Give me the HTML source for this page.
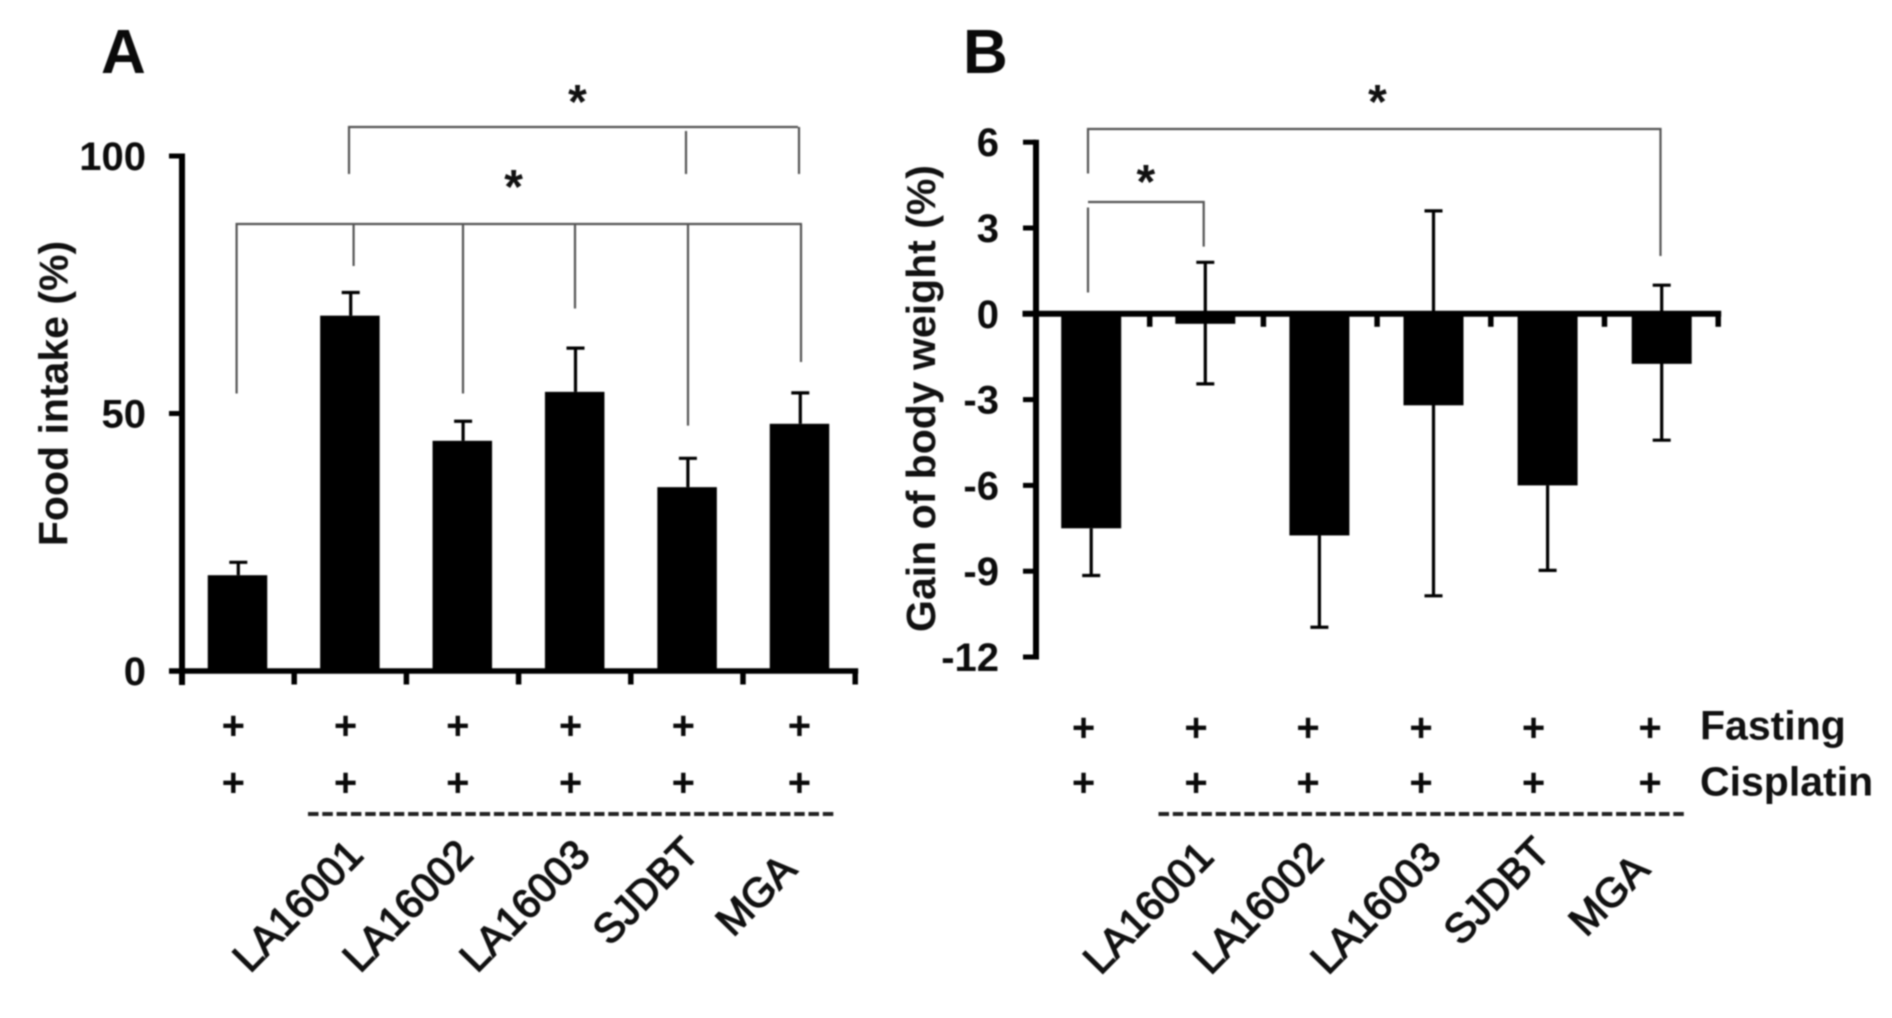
<!DOCTYPE html>
<html lang="en">
<head>
<meta charset="utf-8">
<title>Food intake and gain of body weight</title>
<style>
  html, body { margin: 0; padding: 0; width: 1892px; height: 1018px; background: #fff; overflow: hidden; }
  svg { display: block; font-family: "Liberation Sans", Arial, sans-serif; }
  #scene { filter: url(#soften); }
  .tick-label { font-size: 40px; font-weight: bold; fill: #0c0c0c; text-anchor: end; }
  .axis-title { font-size: 41px; font-weight: bold; fill: #111; text-anchor: middle; }
  .panel { font-size: 62px; font-weight: bold; fill: #0a0a0a; }
  .star { font-size: 48px; font-weight: bold; fill: #111; text-anchor: middle; }
  .plus { font-size: 40px; font-weight: bold; fill: #0a0a0a; text-anchor: middle; }
  .row-label { font-size: 41px; font-weight: bold; fill: #111; }
  .cat { font-size: 41px; fill: #111; stroke: #111; stroke-width: 1.3px; }
  .bracket { stroke: #555; stroke-width: 2.2; fill: none; }
  .dash { stroke: #222; stroke-width: 4; stroke-dasharray: 10.5 3.8; fill: none; }
</style>
</head>
<body>
<svg id="chart" xmlns="http://www.w3.org/2000/svg" width="1892" height="1018" viewBox="0 0 1892 1018">
  <defs>
    <filter id="soften" x="0" y="0" width="100%" height="100%" color-interpolation-filters="sRGB"><feGaussianBlur stdDeviation="0.8"/></filter>
  </defs>
  <rect width="1892" height="1018" fill="#fff"/>
  <g id="scene">
    <text class="panel" x="101" y="73">A</text>
    <text class="panel" x="963" y="73">B</text>

    <text class="axis-title" transform="translate(67.5 393.5) rotate(-90)">Food intake (%)</text>
    <text class="axis-title" transform="translate(935 398.5) rotate(-90)">Gain of body weight (%)</text>

    <g id="panel-a"></g>
    <g id="panel-b"></g>

    <g class="bracket">
      <path d="M349 174V127H798"/><path d="M686 131V174"/><path d="M799 127V174"/>
    </g>
    <g class="bracket">
      <path d="M236.6 393.5V224H802"/><path d="M353.6 224V266"/><path d="M463 224V393.5"/><path d="M575 224V308.5"/><path d="M688 224V425.6"/><path d="M801 224V362"/>
    </g>
    <text class="star" x="577.5" y="118">*</text>
    <text class="star" x="513.6" y="203">*</text>

    <g class="bracket">
      <path d="M1088 173.5V129H1660.5V256"/>
    </g>
    <g class="bracket">
      <path d="M1088 202H1203.7V246.6"/><path d="M1088 207.5V292.5"/>
    </g>
    <text class="star" x="1377.5" y="118">*</text>
    <text class="star" x="1145.8" y="198">*</text>

    <g>
      <text class="plus" x="233.3" y="739">+</text>
      <text class="plus" x="345.5" y="739">+</text>
      <text class="plus" x="457.8" y="739">+</text>
      <text class="plus" x="570.5" y="739">+</text>
      <text class="plus" x="683.3" y="739">+</text>
      <text class="plus" x="799.4" y="739">+</text>
    </g>
    <g>
      <text class="plus" x="233.3" y="796">+</text>
      <text class="plus" x="345.5" y="796">+</text>
      <text class="plus" x="457.8" y="796">+</text>
      <text class="plus" x="570.5" y="796">+</text>
      <text class="plus" x="683.3" y="796">+</text>
      <text class="plus" x="799.4" y="796">+</text>
    </g>
    <g>
      <text class="plus" x="1083.5" y="741">+</text>
      <text class="plus" x="1196" y="741">+</text>
      <text class="plus" x="1308" y="741">+</text>
      <text class="plus" x="1421" y="741">+</text>
      <text class="plus" x="1533.5" y="741">+</text>
      <text class="plus" x="1650" y="741">+</text>
    </g>
    <g>
      <text class="plus" x="1083.5" y="796">+</text>
      <text class="plus" x="1196" y="796">+</text>
      <text class="plus" x="1308" y="796">+</text>
      <text class="plus" x="1421" y="796">+</text>
      <text class="plus" x="1533.5" y="796">+</text>
      <text class="plus" x="1650" y="796">+</text>
    </g>
    <text class="row-label" x="1700" y="739.5">Fasting</text>
    <text class="row-label" x="1700" y="795.5">Cisplatin</text>

    <line class="dash" x1="308" y1="814" x2="836" y2="814"/>
    <line class="dash" x1="1158.5" y1="814" x2="1686" y2="814"/>

    <g>
      <text class="cat" transform="translate(250 974) rotate(-45.5)">LA16001</text>
      <text class="cat" transform="translate(360 974) rotate(-45.5)">LA16002</text>
      <text class="cat" transform="translate(477 974) rotate(-45.5)">LA16003</text>
      <text class="cat" transform="translate(610 947) rotate(-45.5)">SJDBT</text>
      <text class="cat" transform="translate(733 938) rotate(-45.5)">MGA</text>
    </g>
    <g>
      <text class="cat" transform="translate(1100.5 976) rotate(-45.5)">LA16001</text>
      <text class="cat" transform="translate(1210.5 976) rotate(-45.5)">LA16002</text>
      <text class="cat" transform="translate(1328 976) rotate(-45.5)">LA16003</text>
      <text class="cat" transform="translate(1461 947) rotate(-45.5)">SJDBT</text>
      <text class="cat" transform="translate(1586 938) rotate(-45.5)">MGA</text>
    </g>
  </g>
</svg>
<script>
var groupsCount = 6;
var foodIntakeValues = [18.6, 69, 44.7, 54.2, 35.7, 48];
var foodIntakeErrorTops = [21.1, 73.5, 48.5, 62.7, 41.3, 54];
var foodIntakeTicks = [0, 50, 100];
var weightGainValues = [-7.5, -0.35, -7.75, -3.2, -6, -1.75];
var weightGainErrorLows = [-9.15, -2.45, -10.96, -9.86, -8.97, -4.42];
var weightGainErrorHighs = [null, 1.8, null, 3.6, null, 1];
var weightGainTicks = [6, 3, 0, -3, -6, -9, -12];

var SVG_NS = 'http://www.w3.org/2000/svg';
function yA(v) { return 671 - v * 5.15; }
function tickXA(i) { return 182 + i * 112.2; }
function barXA(i) { return 237.5 + i * 112.4; }
function yB(v) { return 313.8 - v * 28.6; }
function tickXB(i) { return 1036 + i * 113.7; }
function barXB(i) { return 1091.2 + i * 114.1; }

function makeLine(parent, x1, y1, x2, y2, w, color) {
  var el = document.createElementNS(SVG_NS, 'line');
  el.setAttribute('x1', x1);
  el.setAttribute('y1', y1);
  el.setAttribute('x2', x2);
  el.setAttribute('y2', y2);
  el.setAttribute('stroke', color || '#000');
  el.setAttribute('stroke-width', w);
  parent.appendChild(el);
  return el;
}
function makeBar(parent, cx, y1, y2, w) {
  var el = document.createElementNS(SVG_NS, 'rect');
  el.setAttribute('x', cx - w / 2);
  el.setAttribute('y', Math.min(y1, y2));
  el.setAttribute('width', w);
  el.setAttribute('height', Math.abs(y2 - y1));
  el.setAttribute('fill', '#000');
  parent.appendChild(el);
  return el;
}
function makeTickLabel(parent, x, y, txt) {
  var el = document.createElementNS(SVG_NS, 'text');
  el.setAttribute('class', 'tick-label');
  el.setAttribute('x', x);
  el.setAttribute('y', y);
  el.textContent = txt;
  parent.appendChild(el);
  return el;
}

var panelA = document.getElementById('panel-a');
var panelB = document.getElementById('panel-b');
var el;

/* Panel A bars and error bars */
foodIntakeValues.forEach(function (v, i) {
  var cx = barXA(i);
  el = makeLine(panelA, cx + 0.8, yA(v), cx + 0.8, yA(foodIntakeErrorTops[i]), 3.2);
  
  
  el = makeLine(panelA, cx - 8.2, yA(foodIntakeErrorTops[i]), cx + 9.8, yA(foodIntakeErrorTops[i]), 3.2);
  
  
  el = makeBar(panelA, cx, yA(0), yA(v), 59.5);
  
  
});

/* Panel A axes */
el = makeLine(panelA, tickXA(0), yA(100) - 2.5, tickXA(0), yA(0) + 14, 6);


el = makeLine(panelA, 169, yA(0), tickXA(groupsCount) + 3, yA(0), 5.5);


foodIntakeTicks.forEach(function (t) {
  el = makeLine(panelA, 169, yA(t), tickXA(0), yA(t), 5);
  
  
  el = makeTickLabel(panelA, 146, yA(t) + 14, String(t));
  
  
});
for (var a = 1; a <= groupsCount; a++) {
  el = makeLine(panelA, tickXA(a), yA(0), tickXA(a), yA(0) + 13.5, 5.5);
  
  
}

/* Panel B bars and error bars */
weightGainValues.forEach(function (v, i) {
  var cx = barXB(i);
  var lowY = yB(weightGainErrorLows[i]);
  var highV = weightGainErrorHighs[i];
  el = makeLine(panelB, cx, yB(highV === null ? v : highV), cx, lowY, 3.2);
  
  
  el = makeLine(panelB, cx - 9, lowY, cx + 9, lowY, 3.2);
  
  
  if (highV !== null) {
    el = makeLine(panelB, cx - 9, yB(highV), cx + 9, yB(highV), 3.2);
    
    
  }
  el = makeBar(panelB, cx, yB(0), yB(v), 60);
  
  
});

/* Panel B axes */
el = makeLine(panelB, tickXB(0), yB(6) - 2.5, tickXB(0), yB(-12) + 2.5, 6);


el = makeLine(panelB, 1022.5, yB(0), tickXB(groupsCount) + 3, yB(0), 6);


weightGainTicks.forEach(function (t) {
  el = makeLine(panelB, 1023, yB(t), tickXB(0), yB(t), 5);
  
  
  el = makeTickLabel(panelB, 999, yB(t) + 14, String(t));
  
  
});
for (var b = 1; b <= groupsCount; b++) {
  el = makeLine(panelB, tickXB(b), yB(0), tickXB(b), yB(0) + 13, 5.5);
  
  
}
</script>
</body>
</html>
